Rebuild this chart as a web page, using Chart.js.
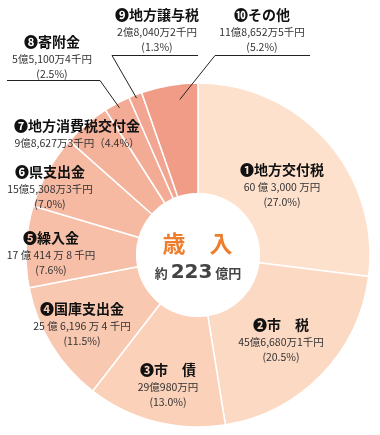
<!DOCTYPE html>
<html><head><meta charset="utf-8">
<script src="https://cdn.jsdelivr.net/npm/chart.js@4/dist/chart.umd.min.js"></script>
<style>html,body{margin:0;padding:0;background:#fff;}#wrap{width:380px;height:435px;}</style>
</head><body><div id="wrap"><canvas id="c" width="380" height="435"></canvas></div>
<script>
// 歳入 (単位: 千円)
const categories = ['地方交付税','市　税','市　債','国庫支出金','繰入金','県支出金','地方消費税交付金','寄附金','地方譲与税','その他'];
const markers = ['❶','❷','❸','❹','❺','❻','❼','❽','❾','❿'];
const values = [6030000, 4566801, 2909800, 2561964, 1704148, 1553083, 986273, 551004, 280402, 1186525];
const amountLabels = ['60 億 3,000 万円','45億6,680万1千円','29億980万円','25 億 6,196 万 4 千円','17 億 414 万 8 千円','15億5,308万3千円','9億8,627万3千円（4.4%）','5億5,100万4千円','2億8,040万2千円','11億8,652万5千円'];
const percentLabels = ['(27.0%)','(20.5%)','(13.0%)','(11.5%)','(7.6%)','(7.0%)','','(2.5%)','(1.3%)','(5.2%)'];
const colors = ['#fde1cd','#fcd9c2','#fbd1ba','#f9c8b1','#f7bfa8','#f6b9a2','#f4b29b','#f3ab95','#f2a590','#f19c87'];

const FONT = '"Noto Sans CJK JP", "Noto Sans", sans-serif';
// label layout (text anchor positions)
const labelPos = [
  {x:282,y:170},{x:281,y:325},{x:168,y:370},{x:82,y:309},{x:51,y:238},
  {x:50,y:172},{x:77,y:126},{x:52,y:42},{x:157,y:15},{x:262,y:15}
];
// leader lines: index, elbow x,y, horizontal end x, position within slice (t), radius fraction
const leaders = [
  {i:7, ex:100, ey:80, hx:7,  t:0.5,  rf:0.97},
  {i:8, ex:112, ey:55, hx:198, t:0.5, rf:0.98},
  {i:9, ex:215, ey:55, hx:310, t:0.65, rf:0.91}
];

const labelPlugin = {
  id:'labels',
  afterDraw(chart){
    const ctx = chart.ctx;
    const meta = chart.getDatasetMeta(0);
    ctx.save();
    // leader lines
    ctx.strokeStyle = '#222'; ctx.lineWidth = 1;
    leaders.forEach(l=>{
      const arc = meta.data[l.i];
      const a = arc.startAngle + (arc.endAngle-arc.startAngle)*l.t;
      const r = arc.outerRadius*l.rf;
      const px = arc.x + Math.cos(a)*r, py = arc.y + Math.sin(a)*r;
      ctx.beginPath();
      ctx.moveTo(l.hx, l.ey+0.5); ctx.lineTo(l.ex, l.ey+0.5); ctx.lineTo(px, py);
      ctx.stroke();
    });
    ctx.textAlign='center'; ctx.textBaseline='middle';
    categories.forEach((c,i)=>{
      const p = labelPos[i];
      ctx.fillStyle='#111';
      ctx.font = 'bold 14px '+FONT;
      ctx.fillText(markers[i]+c, p.x, p.y);
      ctx.fillStyle='#333';
      ctx.font = '10.5px '+FONT;
      ctx.fillText(amountLabels[i], p.x, p.y+17);
      if (percentLabels[i]) ctx.fillText(percentLabels[i], p.x, p.y+32);
    });
    // center text
    const arc0 = meta.data[0];
    const cx = arc0.x, cy = arc0.y;
    ctx.fillStyle='#ef7d2e';
    ctx.font='bold 23px '+FONT;
    ctx.fillText('歳', cx-24, cy-12);
    ctx.fillText('入', cx+23, cy-12);
    ctx.fillStyle='#444';
    ctx.textAlign='left';
    ctx.font='bold 13px '+FONT;
    const s1='約 ', s2='223', s3=' 億円';
    const w1=ctx.measureText(s1).width;
    ctx.font='bold 20px "DejaVu Sans", sans-serif';
    const w2=ctx.measureText(s2).width;
    ctx.font='bold 13px '+FONT;
    const w3=ctx.measureText(s3).width;
    let x = cx-(w1+w2+w3)/2; const yy=cy+18;
    ctx.fillText(s1,x,yy); x+=w1;
    ctx.font='bold 20px "DejaVu Sans", sans-serif';
    ctx.fillText(s2,x,yy); x+=w2;
    ctx.font='bold 13px '+FONT;
    ctx.fillText(s3,x,yy);
    ctx.restore();
  }
};

new Chart(document.getElementById('c'), {
  type:'doughnut',
  data:{labels:categories, datasets:[{data:values, backgroundColor:colors, borderColor:'#fff', borderWidth:1.5, radius:172, cutout:64}]},
  options:{
    responsive:false, animation:false,
    layout:{padding:{left:16,right:0,top:75,bottom:0}},
    plugins:{legend:{display:false}, tooltip:{enabled:false}}
  },
  plugins:[labelPlugin]
});
</script></body></html>
